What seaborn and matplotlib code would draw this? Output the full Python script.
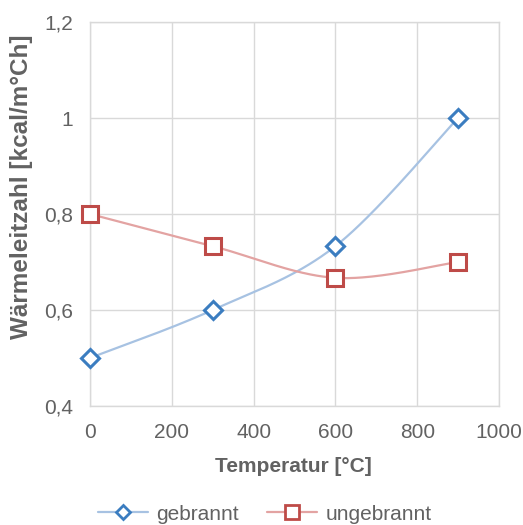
import numpy as np
import pandas as pd
import matplotlib
matplotlib.use("Agg")
import matplotlib.pyplot as plt
import seaborn as sns
from matplotlib.lines import Line2D

# ---- data ----
temperatures = [0, 300, 600, 900]
gebrannt = [0.5, 0.6, 0.733, 1.0]
ungebrannt = [0.8, 0.733, 0.667, 0.7]
series_names = ["gebrannt", "ungebrannt"]
x_ticks = [0, 200, 400, 600, 800, 1000]
x_tick_labels = ["0", "200", "400", "600", "800", "1000"]
y_ticks = [0.4, 0.6, 0.8, 1.0, 1.2]
y_tick_labels = ["0,4", "0,6", "0,8", "1", "1,2"]
x_label = "Temperatur [°C]"
y_label = "Wärmeleitzahl [kcal/m°Ch]"

sns.set_theme(style="white")
plt.rcParams["font.family"] = ["Liberation Sans", "DejaVu Sans"]

W, H = 523, 525
fig = plt.figure(figsize=(W / 100, H / 100), dpi=100)
ax = fig.add_axes([90 / W, 1 - 406 / H, (499 - 90) / W, (406 - 22) / H])

XMIN, XMAX, YMIN, YMAX = 0, 1000, 0.4, 1.2
sx = (499 - 90) / (XMAX - XMIN)
sy = (406 - 22) / (YMAX - YMIN)


def smooth(xs, ys, n=60):
    # Excel-like Bezier smoothing computed in pixel space
    P = np.column_stack([np.array(xs) * sx, np.array(ys) * sy])
    pts = []
    m = len(P)
    for i in range(m - 1):
        p0 = P[max(i - 1, 0)]
        p1 = P[i]
        p2 = P[i + 1]
        p3 = P[min(i + 2, m - 1)]
        c1 = p1 + (p2 - p0) / 6
        c2 = p2 - (p3 - p1) / 6
        t = np.linspace(0, 1, n)[:, None]
        seg = (1 - t) ** 3 * p1 + 3 * (1 - t) ** 2 * t * c1 + 3 * (1 - t) * t ** 2 * c2 + t ** 3 * p2
        pts.append(seg if i == 0 else seg[1:])
    pts = np.vstack(pts)
    return pts[:, 0] / sx, pts[:, 1] / sy


line_colors = {"gebrannt": "#A7C2E2", "ungebrannt": "#E3A3A2"}
edge_colors = {"gebrannt": "#3B7DC0", "ungebrannt": "#BE4B48"}
markers = {"gebrannt": "D", "ungebrannt": "s"}
msizes = {"gebrannt": 9, "ungebrannt": 12}

curves = []
for name, vals in zip(series_names, [gebrannt, ungebrannt]):
    cx, cy = smooth(temperatures, vals)
    curves.append(pd.DataFrame({"x": cx, "y": cy, "series": name, "order": np.arange(len(cx))}))
curve_df = pd.concat(curves, ignore_index=True)
point_df = pd.DataFrame({
    "x": temperatures * 2,
    "y": gebrannt + ungebrannt,
    "series": ["gebrannt"] * 4 + ["ungebrannt"] * 4,
})

for name in series_names:
    sub = curve_df[curve_df.series == name]
    sns.lineplot(data=sub, x="x", y="y", sort=False, estimator=None, ax=ax,
                 color=line_colors[name], linewidth=1.6, legend=False, zorder=3)
for name in series_names:
    sub = point_df[point_df.series == name]
    ax.plot(sub.x, sub.y, linestyle="none", marker=markers[name], markersize=msizes[name],
            markerfacecolor="white", markeredgecolor=edge_colors[name], markeredgewidth=2.2,
            zorder=4, clip_on=False)

text_c = "#626262"
ax.set_xlim(XMIN, XMAX)
ax.set_ylim(YMIN, YMAX)
ax.set_xticks(x_ticks)
ax.set_xticklabels(x_tick_labels)
ax.set_yticks(y_ticks)
ax.set_yticklabels(y_tick_labels)
grid_c = "#D9D9D9"
ax.grid(True, color=grid_c, linewidth=1.0)
for s in ax.spines.values():
    s.set_color(grid_c)
    s.set_linewidth(1.0)
ax.tick_params(axis="both", length=0, labelsize=15, labelcolor=text_c)
ax.tick_params(axis="x", pad=12)
ax.tick_params(axis="y", pad=12)
ax.set_xlabel(x_label, fontsize=15, fontweight="bold", color=text_c)
ax.set_ylabel(y_label, fontsize=17.5, fontweight="bold", color=text_c)
ax.xaxis.set_label_coords((293.5 - 90) / 409, (406 - 466) / 384)
ax.xaxis.label.set_va("center")
ax.yaxis.set_label_coords((22 - 90) / 409, (406 - 187) / 384)
ax.yaxis.label.set_va("center")

handles = [
    Line2D([0], [0], color=line_colors[n], linewidth=1.6, marker=markers[n],
           markersize=msizes[n] * 0.8, markerfacecolor="white", markeredgecolor=edge_colors[n],
           markeredgewidth=2.0)
    for n in series_names
]
fig.legend(handles, series_names, loc="center", bbox_to_anchor=(265 / W, 1 - 514 / H), ncol=2,
           frameon=False, fontsize=15, handlelength=2.4, columnspacing=1.35, handletextpad=0.4,
           labelcolor=text_c, borderaxespad=0, borderpad=0)

fig.savefig("out.png", dpi=100, facecolor="white")
